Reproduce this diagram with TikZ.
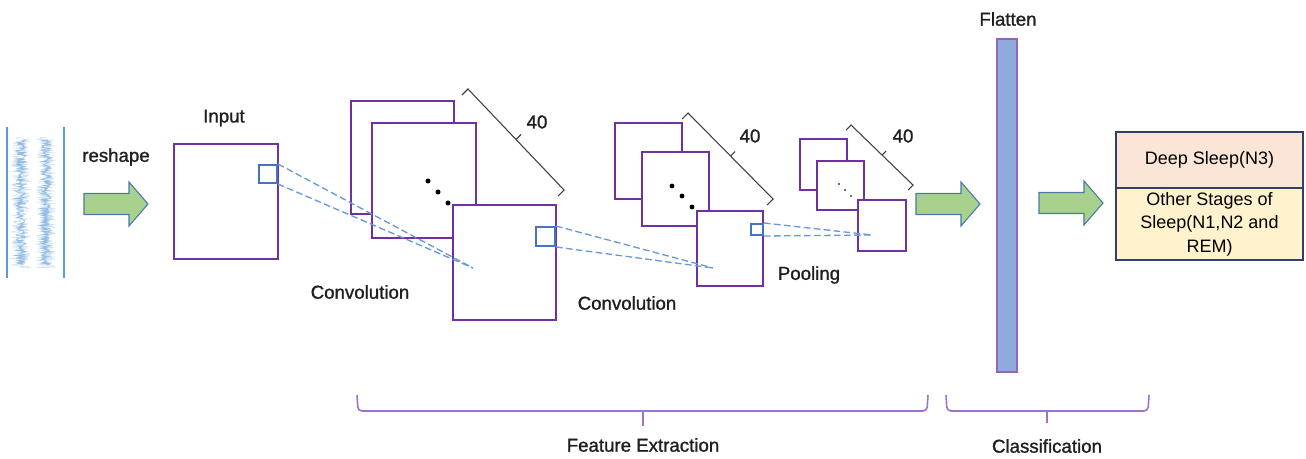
\documentclass[tikz,border=0pt]{standalone}
\usepackage{fontspec}
\setmainfont{Liberation Sans}
\newfontfamily\lblfont{Liberation Sans}[FakeBold=1.2]
\usetikzlibrary{fit}
\definecolor{pur}{HTML}{7030A0}
\definecolor{lpur}{HTML}{A070D0}
\definecolor{bsq}{HTML}{4472C4}
\definecolor{dsh}{HTML}{6A98DC}
\definecolor{sigc}{HTML}{5B9BD5}
\definecolor{garr}{HTML}{A9D18E}
\definecolor{garrb}{HTML}{4A78A8}
\definecolor{flat}{HTML}{8FAADC}
\definecolor{peach}{HTML}{FBE5D6}
\definecolor{cream}{HTML}{FFF2CC}
\definecolor{navy}{HTML}{2F3F6F}
\definecolor{brk}{HTML}{404040}
\begin{document}
\begin{tikzpicture}[x=0.75pt,y=-0.75pt,
  lbl/.style={font=\lblfont\fontsize{14}{17}\selectfont, inner sep=0pt, text=black!88},
  otxt/.style={font=\fontsize{13.5}{17.6}\selectfont, inner sep=0pt, text=black},
  pbox/.style={draw=pur, line width=1.6pt, fill=white, inner sep=0pt},
  bsqr/.style={draw=bsq, line width=1.5pt, inner sep=0pt},
  dline/.style={draw=dsh, line width=1pt, dash pattern=on 5pt off 2.5pt},
  brack/.style={draw=brk, line width=0.8pt, line join=miter},
  grp/.style={draw=lpur, line width=1.2pt, rounded corners=3pt},
  arrowst/.style={draw=garrb, fill=garr, line width=0.8pt, line join=miter},
  fatarrow/.pic={\path[arrowst] (0,-10.5) -- (45,-10.5) -- (45,-22) -- (64,0) -- (45,22) -- (45,10.5) -- (0,10.5) -- cycle;}
]
\useasboundingbox (0,0) rectangle (1306,459);

% ---------- signal ----------
\draw[draw=sigc, line width=1pt] (7,127) -- (7,278);
\draw[draw=sigc, line width=1pt] (64,127) -- (64,278);
\pgfmathsetseed{11}
\foreach \cx in {21,46}{
  \draw[draw=sigc!70, line width=0.45pt, opacity=0.4] plot[domain=137:268, samples=300, variable=\t] ({\cx+9.5*rand},\t);
  \draw[draw=sigc, line width=0.6pt, opacity=0.55] plot[domain=140:265, samples=200, variable=\t] ({\cx+5*rand},\t);
}

% ---------- reshape ----------
\node[lbl] (reshape) at (116,157) {reshape};
\pic (arr1) at (84,204) {fatarrow};

% ---------- input ----------
\node[lbl] (inputlbl) at (224,118) {Input};
\node[pbox, fit={(174,144) (278,259)}] (input) {};
\node[bsqr, fit={(259,165) (277,183)}] (insq) {};

% ---------- conv 1 ----------
\node[pbox, fit={(351,101) (454,214)}] (c1a) {};
\node[pbox, fit={(372,123) (476,238)}] (c1b) {};
\fill (428,181) circle (2.5) (438,192) circle (2.5) (448,203) circle (2.5);
\node[pbox, fit={(453,205) (556,320)}] (c1c) {};
\node[bsqr, fit={(536,227) (555,246)}] (c1sq) {};
\path[brack] (462,95) -- (468,89) -- (564,190) -- (558,196);
\path[brack] (516,139.5) -- (521,134.5);
\node[lbl] (n40a) at (537,122) {40};
\node[lbl] (conv1) at (360,292) {Convolution};

% ---------- conv 2 ----------
\node[pbox, fit={(615,123) (682,199)}] (c2a) {};
\node[pbox, fit={(642,152) (709,226)}] (c2b) {};
\fill (672,186) circle (2.4) (682,196) circle (2.4) (692,207) circle (2.4);
\node[pbox, fit={(697,211) (763,286)}] (c2c) {};
\node[bsqr, fit={(751,224) (763,235)}] (c2sq) {};
\path[brack] (682,119) -- (688,113) -- (773,199) -- (767,205);
\path[brack] (730.5,156) -- (735,151.5);
\node[lbl] (n40b) at (750,136) {40};
\node[lbl] (conv2) at (627,303) {Convolution};

% ---------- pooling ----------
\node[pbox, fit={(800,139) (847,190)}] (pa) {};
\node[pbox, fit={(817,161) (864,210)}] (pb) {};
\fill[black!75] (839,184) circle (1.1) (845,190) circle (1.1) (851,196) circle (1.1);
\node[pbox, fit={(858,200) (906,251)}] (pc) {};
\path[brack] (846,130) -- (851,125) -- (913,185) -- (908,190);
\path[brack] (882,155) -- (886,151);
\node[lbl] (n40c) at (903,136) {40};
\node[lbl] (pool) at (809,275) {Pooling};

% ---------- dashed receptive-field lines ----------
\coordinate (t1) at (473,268);
\coordinate (t2) at (713,268);
\coordinate (t3) at (872,235);
\path[dline] (insq.north east) -- (t1);
\path[dline] (insq.south east) -- (t1);
\path[dline] (c1sq.north east) -- (t2);
\path[dline] (c1sq.south east) -- (t2);
\path[dline] (c2sq.north east) -- (t3);
\path[dline] (c2sq.south east) -- (t3);

% ---------- flatten ----------
\pic (arr2) at (916,204) {fatarrow};
\node[draw=lpur!90!black, fill=flat, line width=1.2pt, inner sep=0pt, fit={(997,39) (1017,372)}] (flatten) {};
\node[lbl] (flatlbl) at (1008,19) {Flatten};
\pic (arr3) at (1039,203) {fatarrow};

% ---------- output ----------
\node[draw=navy, fill=peach, line width=1.2pt, inner sep=0pt, fit={(1116,132) (1303,188)}] (deep) {};
\node[draw=navy, fill=cream, line width=1.2pt, inner sep=0pt, fit={(1116,188) (1303,260)}] (other) {};
\node[otxt] (deeplbl) at (deep.center) {Deep Sleep(N3)};
\node[otxt, align=center] (otherlbl) at (other.center) {Other Stages of\\Sleep(N1,N2 and\\REM)};

% ---------- group braces ----------
\path[grp] (357,395) -- (358,411) -- (927,411) -- (928,395);
\path[grp, rounded corners=0pt] (643,411) -- (643,426);
\node[lbl] (fe) at (643,445) {Feature Extraction};
\path[grp] (946,395) -- (947,411) -- (1148,411) -- (1149,395);
\path[grp, rounded corners=0pt] (1047,411) -- (1047,423);
\node[lbl] (cls) at (1047,446) {Classification};
\end{tikzpicture}
\end{document}
